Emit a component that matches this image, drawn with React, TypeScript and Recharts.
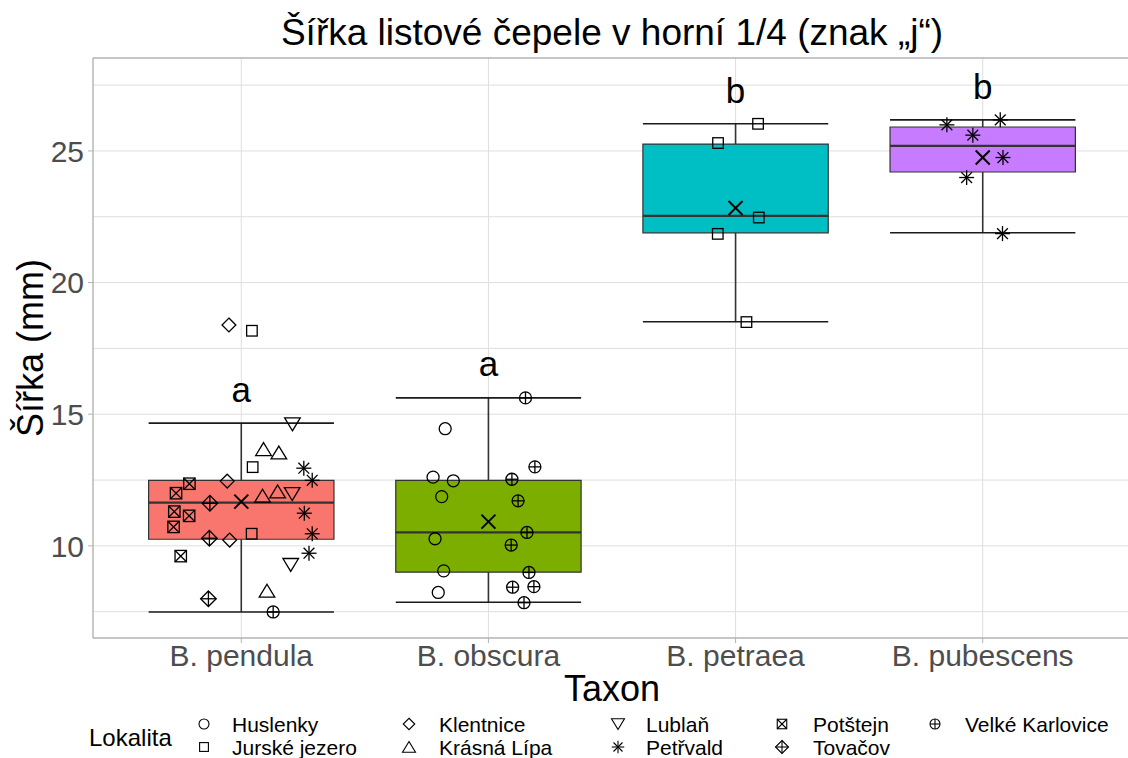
import { ScatterChart, Scatter, XAxis, YAxis, CartesianGrid, ReferenceArea, ReferenceLine } from 'recharts';

const FONT = '"Liberation Sans", Arial, Helvetica, sans-serif';

// taxa on the x axis (numeric positions 1..4)
const taxa = ['B. pendula', 'B. obscura', 'B. petraea', 'B. pubescens'];
const taxonPos = [1, 2, 3, 4];
const boxFill = ['#F8766D', '#7CAE00', '#00BFC4', '#C77CFF'];

// boxplot stats per taxon
const whiskerLow = [7.49, 7.86, 18.51, 21.89];
const q1 = [10.25, 9.0, 21.89, 24.2];
const median = [11.64, 10.51, 22.53, 25.19];
const q3 = [12.49, 12.49, 25.26, 25.91];
const whiskerHigh = [14.66, 15.62, 26.03, 26.18];
const means = [11.68, 10.92, 22.83, 24.75];

// significance letters
const letters = ['a', 'a', 'b', 'b'];
const letterY = [15.9, 16.87, 27.25, 27.38];

// jittered observations per locality: [x, width mm]
const huslenky = [[1.825, 14.45], [1.776, 12.61], [1.858, 12.47], [1.811, 11.87], [1.784, 10.27], [1.819, 9.05], [1.797, 8.23]];
const jurskeJezero = [[1.043, 18.17], [1.046, 12.99], [1.042, 10.46], [3.091, 26.03], [2.929, 25.3], [3.094, 22.47], [2.928, 21.85], [3.044, 18.5]];
const klentnice = [[0.95, 18.39], [0.943, 12.46], [0.953, 10.22]];
const krasnaLipa = [[1.09, 13.67], [1.152, 13.54], [1.086, 11.9], [1.147, 12.06], [1.104, 8.29]];
const lublan = [[1.207, 14.62], [1.206, 11.97], [1.2, 9.28]];
const petrvald = [[1.253, 12.95], [1.287, 12.49], [1.255, 11.24], [1.287, 10.46], [1.274, 9.72], [3.855, 25.99], [4.071, 26.18], [3.96, 25.6], [4.082, 24.75], [3.935, 23.99], [4.08, 21.86]];
const potstejn = [[0.79, 12.36], [0.736, 12.0], [0.729, 11.3], [0.789, 11.14], [0.726, 10.72], [0.755, 9.61]];
const tovacov = [[0.873, 11.62], [0.871, 10.29], [0.867, 7.99]];
const velkeKarlovice = [[1.129, 7.49], [2.15, 15.62], [2.188, 13.0], [2.095, 12.53], [2.12, 11.71], [2.156, 10.51], [2.092, 10.03], [2.164, 8.99], [2.098, 8.43], [2.184, 8.45], [2.144, 7.84]];

const localities = [
  { name: 'Huslenky', shape: 'circle', points: huslenky },
  { name: 'Jurské jezero', shape: 'square', points: jurskeJezero },
  { name: 'Klentnice', shape: 'diamond', points: klentnice },
  { name: 'Krásná Lípa', shape: 'triUp', points: krasnaLipa },
  { name: 'Lublaň', shape: 'triDown', points: lublan },
  { name: 'Petřvald', shape: 'asterisk', points: petrvald },
  { name: 'Potštejn', shape: 'squareX', points: potstejn },
  { name: 'Tovačov', shape: 'diamondPlus', points: tovacov },
  { name: 'Velké Karlovice', shape: 'circlePlus', points: velkeKarlovice },
];

const yTicks = [10, 15, 20, 25];
const gridY = [7.5, 10, 12.5, 15, 17.5, 20, 22.5, 25, 27.5];
const yDomain = [6.5, 28.53];

function Mark({ kind, x, y, s, sw = 1.3 }: { kind: string; x: number; y: number; s: number; sw?: number }) {
  const st = { stroke: '#000', strokeWidth: sw, fill: 'none' };
  const d = s * 1.15;
  switch (kind) {
    case 'circle':
      return <circle cx={x} cy={y} r={s} {...st} />;
    case 'square':
      return <rect x={x - s * 0.88} y={y - s * 0.88} width={s * 1.76} height={s * 1.76} {...st} />;
    case 'diamond':
      return <polygon points={`${x},${y - d} ${x + d},${y} ${x},${y + d} ${x - d},${y}`} {...st} />;
    case 'triUp':
      return <polygon points={`${x},${y - s * 1.1} ${x + s * 1.3},${y + s * 1.05} ${x - s * 1.3},${y + s * 1.05}`} {...st} />;
    case 'triDown':
      return <polygon points={`${x},${y + s * 1.1} ${x + s * 1.3},${y - s * 1.05} ${x - s * 1.3},${y - s * 1.05}`} {...st} />;
    case 'asterisk': {
      const a = s * 1.25;
      const b = a * 0.72;
      return (
        <g {...st}>
          <line x1={x - a} y1={y} x2={x + a} y2={y} />
          <line x1={x} y1={y - a} x2={x} y2={y + a} />
          <line x1={x - b} y1={y - b} x2={x + b} y2={y + b} />
          <line x1={x - b} y1={y + b} x2={x + b} y2={y - b} />
        </g>
      );
    }
    case 'squareX': {
      const h = s * 0.95;
      return (
        <g {...st}>
          <rect x={x - h} y={y - h} width={h * 2} height={h * 2} />
          <line x1={x - h} y1={y - h} x2={x + h} y2={y + h} />
          <line x1={x - h} y1={y + h} x2={x + h} y2={y - h} />
        </g>
      );
    }
    case 'diamondPlus': {
      const e = s * 1.3;
      return (
        <g {...st}>
          <polygon points={`${x},${y - e} ${x + e},${y} ${x},${y + e} ${x - e},${y}`} />
          <line x1={x - e} y1={y} x2={x + e} y2={y} />
          <line x1={x} y1={y - e} x2={x} y2={y + e} />
        </g>
      );
    }
    case 'circlePlus':
      return (
        <g {...st}>
          <circle cx={x} cy={y} r={s} />
          <line x1={x - s} y1={y} x2={x + s} y2={y} />
          <line x1={x} y1={y - s} x2={x} y2={y + s} />
        </g>
      );
    case 'cross': {
      const c = s;
      return (
        <g stroke="#000" strokeWidth={sw} fill="none">
          <line x1={x - c} y1={y - c} x2={x + c} y2={y + c} />
          <line x1={x - c} y1={y + c} x2={x + c} y2={y - c} />
        </g>
      );
    }
    default:
      return null;
  }
}

const HALF = 0.375;

export default function App() {
  const meanData = means.map((m, i) => ({ x: taxonPos[i], y: m }));
  const letterData = letterY.map((v, i) => ({ x: taxonPos[i], y: v, t: letters[i] }));

  return (
    <div style={{ position: 'absolute', left: 0, top: 0, width: 1128, height: 758, overflow: 'hidden', background: '#fff', fontFamily: FONT }}>
      <ScatterChart width={1131} height={758} margin={{ top: 58, right: 0, bottom: 60, left: 0 }}>
        <CartesianGrid stroke="#dedede" strokeWidth={1} horizontalValues={gridY} verticalValues={taxonPos} />
        <XAxis
          type="number"
          dataKey="x"
          domain={[0.4, 4.6]}
          ticks={taxonPos}
          allowDataOverflow
          height={60}
          tickFormatter={(v: number) => taxa[v - 1]}
          tick={{ fontSize: 30, fill: '#4d4d4d', fontFamily: FONT }}
          tickLine={{ stroke: '#b3b3b3' }}
          axisLine={{ stroke: '#b3b3b3', strokeWidth: 1.4 }}
          tickSize={5}
          tickMargin={2}
          label={() => (
            <text x={612} y={701} textAnchor="middle" fontSize={36} fill="#000" fontFamily={FONT}>Taxon</text>
          )}
        />
        <YAxis
          type="number"
          dataKey="y"
          domain={yDomain}
          ticks={yTicks}
          allowDataOverflow
          width={93}
          tick={{ fontSize: 30, fill: '#4d4d4d', fontFamily: FONT }}
          tickLine={{ stroke: '#b3b3b3' }}
          axisLine={{ stroke: '#b3b3b3', strokeWidth: 1.4 }}
          tickSize={5}
          tickMargin={4}
          label={() => (
            <text x={43} y={348} transform="rotate(-90 43 348)" textAnchor="middle" fontSize={36} fill="#000" fontFamily={FONT}>Šířka (mm)</text>
          )}
        />
        <ReferenceLine y={yDomain[1]} stroke="#b3b3b3" strokeWidth={1.4} />

        {taxonPos.map((c, i) => (
          <ReferenceLine key={`wl${i}`} segment={[{ x: c, y: whiskerLow[i] }, { x: c, y: q1[i] }]} stroke="#333" strokeWidth={1.6} />
        ))}
        {taxonPos.map((c, i) => (
          <ReferenceLine key={`wh${i}`} segment={[{ x: c, y: q3[i] }, { x: c, y: whiskerHigh[i] }]} stroke="#333" strokeWidth={1.6} />
        ))}
        {taxonPos.map((c, i) => (
          <ReferenceLine key={`el${i}`} segment={[{ x: c - HALF, y: whiskerLow[i] }, { x: c + HALF, y: whiskerLow[i] }]} stroke="#1a1a1a" strokeWidth={1.6} />
        ))}
        {taxonPos.map((c, i) => (
          <ReferenceLine key={`eh${i}`} segment={[{ x: c - HALF, y: whiskerHigh[i] }, { x: c + HALF, y: whiskerHigh[i] }]} stroke="#1a1a1a" strokeWidth={1.6} />
        ))}
        {taxonPos.map((c, i) => (
          <ReferenceArea key={`box${i}`} x1={c - HALF} x2={c + HALF} y1={q1[i]} y2={q3[i]} fill={boxFill[i]} fillOpacity={1} stroke="#333" strokeWidth={1.2} />
        ))}
        {taxonPos.map((c, i) => (
          <ReferenceLine key={`med${i}`} segment={[{ x: c - HALF, y: median[i] }, { x: c + HALF, y: median[i] }]} stroke="#333" strokeWidth={2.2} />
        ))}

        {localities.map((loc) => (
          <Scatter
            key={loc.name}
            name={loc.name}
            data={loc.points.map(([x, y]) => ({ x, y }))}
            isAnimationActive={false}
            shape={(p: any) => <Mark kind={loc.shape} x={p.cx} y={p.cy} s={6} />}
          />
        ))}
        <Scatter
          name="mean"
          data={meanData}
          isAnimationActive={false}
          shape={(p: any) => <Mark kind="cross" x={p.cx} y={p.cy} s={7} sw={2} />}
        />
        <Scatter
          name="letters"
          data={letterData}
          isAnimationActive={false}
          shape={(p: any) => (
            <text x={p.cx} y={p.cy + 11} textAnchor="middle" fontSize={35} fill="#000" fontFamily={FONT}>{p.payload.t}</text>
          )}
        />
      </ScatterChart>

      <svg width={1128} height={758} style={{ position: 'absolute', left: 0, top: 0, pointerEvents: 'none' }}>
        <text x={612} y={45} textAnchor="middle" fontSize={37} fill="#000" fontFamily={FONT}>
          Šířka listové čepele v horní 1/4 (znak „j“)
        </text>
        <text x={89} y={746} fontSize={24} fill="#000" fontFamily={FONT}>Lokalita</text>
        {localities.map((loc, k) => {
          const col = Math.floor(k / 2);
          const row = k % 2;
          const symX = [204, 409, 618, 782, 935][col];
          const txtX = [232, 439, 646, 813, 965][col];
          const cy = row === 0 ? 724 : 747;
          return (
            <g key={loc.name}>
              <Mark kind={loc.shape} x={symX} y={cy} s={5} sw={1.1} />
              <text x={txtX} y={cy + 7.5} fontSize={21} fill="#000" fontFamily={FONT}>{loc.name}</text>
            </g>
          );
        })}
      </svg>
    </div>
  );
}
